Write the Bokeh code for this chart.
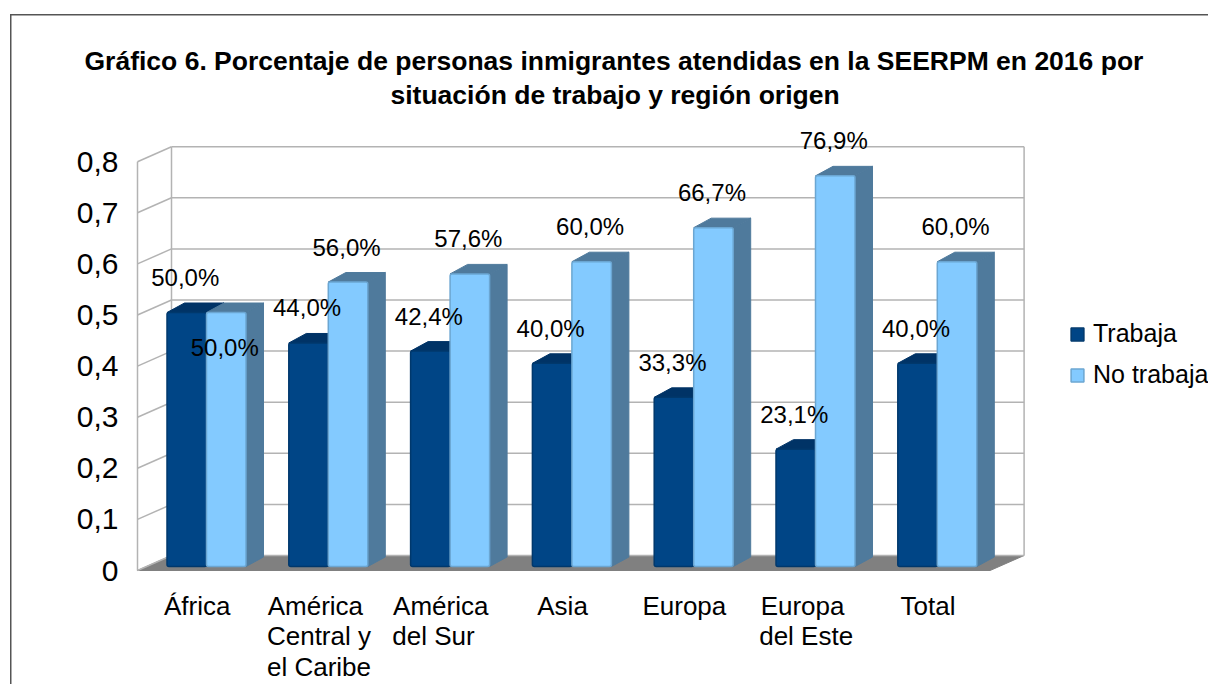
from bokeh.plotting import figure
from bokeh.models import ColumnDataSource, FixedTicker, Range1d, Legend, LegendItem, Title
from bokeh.core.properties import value
from bokeh.embed import file_html
from bokeh.resources import INLINE

NB = "\u00a0"
categories = ["África", "América" + NB + "\nCentral y\nel Caribe", "América\ndel Sur" + NB * 2, "Asia", "Europa",
              "Europa" + NB + "\ndel Este", "Total"]
trabaja = [0.50, 0.44, 0.424, 0.40, 0.333, 0.231, 0.40]
no_trabaja = [0.50, 0.56, 0.576, 0.60, 0.667, 0.769, 0.60]
trabaja_labels = ["50,0%", "44,0%", "42,4%", "40,0%", "33,3%", "23,1%", "40,0%"]
no_trabaja_labels = ["50,0%", "56,0%", "57,6%", "60,0%", "66,7%", "76,9%", "60,0%"]
y_ticks = [0, 0.1, 0.2, 0.3, 0.4, 0.5, 0.6, 0.7, 0.8]
y_tick_labels = ["0", "0,1", "0,2", "0,3", "0,4", "0,5", "0,6", "0,7", "0,8"]
title_lines = ["Gráfico 6. Porcentaje de personas inmigrantes atendidas en la SEERPM en 2016 por",
               "situación de trabajo y región origen"]

FONT = "Liberation Sans"
W, H = 1208, 684
# frame box in page pixels
FL, FR, FT, FB = 130, 1069, 125, 572
# origin of the front plane and scales
OX, OY = 137, 570
PX_X, PX_Y = 121.8, 511.0

def ux(px):
    return px / PX_X

def uy(px):
    return px / PX_Y

p = figure(frame_width=FR - FL, frame_height=FB - FT, output_backend="svg", toolbar_location=None,
           x_range=Range1d(ux(FL - OX), ux(FR - OX)),
           y_range=Range1d(uy(OY - FB), uy(OY - FT)),
           min_border_left=FL, min_border_right=W - FR,
           min_border_top=FT, min_border_bottom=H - FB,
           background_fill_alpha=0, border_fill_alpha=0)
p.outline_line_color = None
p.grid.visible = False
p.styles = {
    "background": "linear-gradient(#555555,#555555) 10px 14px / 1400px 1.5px no-repeat, "
                  "linear-gradient(#555555,#555555) 10px 14px / 1.5px 1000px no-repeat, white",
}

# axes
p.yaxis.ticker = FixedTicker(ticks=y_ticks)
p.yaxis.major_label_overrides = dict(zip(y_ticks, y_tick_labels))
p.yaxis.axis_line_color = None
p.yaxis.major_tick_line_color = None
p.yaxis.minor_tick_line_color = None
p.yaxis.major_label_text_font = FONT
p.yaxis.major_label_text_font_size = "30px"
p.yaxis.major_label_text_color = "black"
p.yaxis.major_label_standoff = 6

n = len(categories)
cat_pos = [i + 0.49 for i in range(n)]
p.xaxis.ticker = FixedTicker(ticks=cat_pos)
p.xaxis.major_label_overrides = dict(zip(cat_pos, categories))
p.xaxis.axis_line_color = None
p.xaxis.major_tick_line_color = None
p.xaxis.minor_tick_line_color = None
p.xaxis.major_label_text_font = FONT
p.xaxis.major_label_text_font_size = "26px"
p.xaxis.major_label_text_color = "black"
p.xaxis.major_label_text_line_height = 1.03
p.xaxis.major_label_standoff = 12

# 3-D walls
WALL_DX, WALL_DY = ux(34), uy(15)
GRID = "#b3b3b3"
p.patch([0, n, n + WALL_DX, WALL_DX], [0, 0, WALL_DY, WALL_DY], fill_color="#808080", line_color="#808080")
top = y_ticks[-1]
p.segment(x0=[WALL_DX] * len(y_ticks), y0=[t + WALL_DY for t in y_ticks],
          x1=[n + WALL_DX] * len(y_ticks), y1=[t + WALL_DY for t in y_ticks],
          line_color=GRID, line_width=1.5)
p.segment(x0=[0] * len(y_ticks), y0=y_ticks,
          x1=[WALL_DX] * len(y_ticks), y1=[t + WALL_DY for t in y_ticks],
          line_color=GRID, line_width=1.5)
p.segment(x0=[0, WALL_DX, n + WALL_DX], y0=[0, WALL_DY, WALL_DY],
          x1=[0, WALL_DX, n + WALL_DX], y1=[top, top + WALL_DY, top + WALL_DY],
          line_color=GRID, line_width=1.5)

# bars
BAR_BASE, BAR_SCALE = uy(4), 508 / 511
INSET, BAR_W = ux(29.5), ux(39.5)
BAR_DX, BAR_DY = ux(17.5), uy(9.5)

def bar_series(values, shift, front, side, top_col, edge):
    lefts = [i + INSET + shift for i in range(n)]
    rights = [l + BAR_W for l in lefts]
    tops = [BAR_BASE + v * BAR_SCALE for v in values]
    p.patches([[r, r + BAR_DX, r + BAR_DX, r] for r in rights],
              [[BAR_BASE, BAR_BASE + BAR_DY, t + BAR_DY, t] for t in tops],
              fill_color=side, line_color=side)
    p.patches([[l, r, r + BAR_DX, l + BAR_DX] for l, r in zip(lefts, rights)],
              [[t, t, t + BAR_DY, t + BAR_DY] for t in tops],
              fill_color=top_col, line_color=top_col)
    return p.quad(left=lefts, right=rights, bottom=[BAR_BASE] * n, top=tops,
                  fill_color=front, line_color=edge, line_width=1.5, border_radius=2)

dark = bar_series(trabaja, 0, "#004586", "#003366", "#003366", "#00386c")
light = bar_series(no_trabaja, BAR_W, "#83caff", "#4f7a9c", "#4f7a9c", "#6ba6d2")

# data labels
LABEL_OFFSET = uy(35)
LABEL_SHIFT = ux(1.5)
lab_x, lab_y, lab_t = [], [], []
for i in range(n):
    lab_x.append(i + INSET + BAR_W / 2 - LABEL_SHIFT)
    lab_y.append(BAR_BASE + trabaja[i] * BAR_SCALE + LABEL_OFFSET)
    lab_t.append(trabaja_labels[i])
    lab_x.append(i + INSET + BAR_W * 1.5 - LABEL_SHIFT)
    # the first "No trabaja" label sits inside its bar in the reference
    sign = -1 if i == 0 else 1
    lab_y.append(BAR_BASE + no_trabaja[i] * BAR_SCALE + sign * LABEL_OFFSET)
    lab_t.append(no_trabaja_labels[i])
p.text(x="x", y="y", text="t", source=ColumnDataSource(dict(x=lab_x, y=lab_y, t=lab_t)),
       text_font=value(FONT), text_font_size="24px", text_color="black",
       text_align="center", text_baseline="middle")

# legend in the right-hand panel
legend = Legend(items=[LegendItem(label="Trabaja", renderers=[dark]),
                       LegendItem(label="No trabaja", renderers=[light])],
                location=(0, 183),
                orientation="vertical", glyph_width=16, glyph_height=16, label_standoff=8,
                spacing=12, padding=0, margin=0, border_line_color=None, background_fill_alpha=0,
                label_text_font=FONT, label_text_font_size="25px", label_text_color="black",
                label_height=28)
p.add_layout(legend, "right")

# title, one Title per line
for line, left_px, standoff in zip(reversed(title_lines), [390, 84], [32, -28]):
    p.add_layout(Title(text=line, text_font=FONT, text_font_size="26.5px", text_font_style="bold",
                       text_color="black", align="left", offset=left_px - FL, standoff=standoff), "above")

open("out.html", "w").write(file_html(p, INLINE))
